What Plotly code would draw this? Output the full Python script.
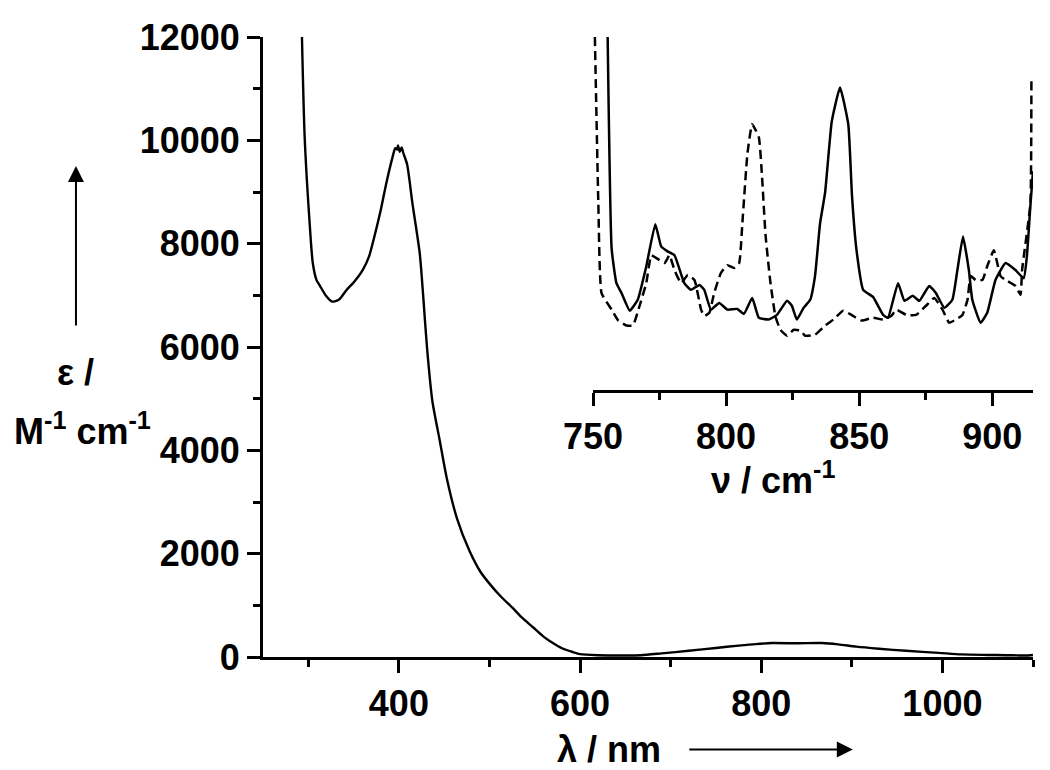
import plotly.graph_objects as go

# UV-vis spectrum (main panel)
lam_nm = [293, 296, 301, 305, 309, 313, 320, 326, 334, 342, 350, 360, 367, 373, 380,
          386, 393, 396, 398, 399, 401, 403, 405, 409, 415, 423, 427, 431, 437, 445,
          453, 464, 478, 490, 500, 512, 525, 536, 548, 560, 570, 580, 592, 600, 620,
          650, 667, 690, 720, 750, 775, 794, 812, 840, 867, 885, 905, 930, 960, 996,
          1021, 1050, 1070, 1085, 1095, 1100]
eps = [12000, 10060, 8525, 7620, 7300, 7180, 6980, 6880, 6920, 7100, 7250, 7490, 7750,
       8140, 8650, 9160, 9675, 9850, 9820, 9900, 9780, 9860, 9750, 9540, 8775, 7815,
       6950, 6000, 4950, 4200, 3450, 2690, 2050, 1650, 1420, 1180, 960, 760, 576, 390,
       270, 170, 96, 55, 35, 30, 35, 70, 120, 175, 220, 250, 270, 265, 270, 245, 200,
       160, 120, 80, 50, 40, 35, 30, 30, 40]

# inset: IR spectra (arbitrary units)
nu_a = [755.5, 757, 758.8, 760.7, 763.8, 766.8, 770, 773.4, 775.6, 778, 780.6, 784.3,
        786.8, 790, 791.8, 794.3, 797.4, 800.5, 804.2, 806.7, 809.8, 812.3, 816, 819.1,
        822.9, 824.7, 826.6, 829.1, 831.6, 833.4, 835.3, 837.2, 839.7, 842.8, 845.9,
        847.3, 849, 851.5, 855.2, 859, 860.8, 864.6, 867, 870.1, 872.6, 876.3, 878.8,
        882, 885, 886.9, 889, 891.2, 892.5, 895.6, 898.1, 901.2, 905, 908.7, 911.8,
        913, 914.3, 915.3]
ir_a = [100, 40, 30.3, 27.5, 22.5, 25.6, 35, 47, 40.7, 39.3, 38.2, 30.3, 28.4, 29.8,
        28.4, 22.8, 24.7, 22.8, 23, 21.6, 26.1, 20.5, 20, 21.3, 25.3, 23.9, 20, 23.3,
        25.6, 32.3, 47.2, 56, 76.1, 85.7, 75.3, 55, 39.6, 28.4, 26.4, 21.3, 20.5, 30.3,
        25.3, 26.7, 25.3, 29.5, 27.5, 23.3, 25.6, 34, 43.5, 34, 25.6, 19.1, 21.9, 31.2,
        36, 34, 31.7, 37.9, 52, 62]

nu_b = [750.7, 752, 753.2, 757, 759.5, 762.6, 765, 767.5, 770, 771.9, 773.8, 776.9,
        778.7, 780.6, 783.1, 785.6, 788.1, 790.6, 791.8, 793.7, 795.5, 798, 800.5, 803,
        804.9, 806.1, 808, 809.8, 812.3, 813.5, 814.8, 816.6, 818.5, 820.4, 822.9,
        825.4, 827.9, 829.7, 833.4, 837.2, 840.3, 844, 847.1, 850.9, 855.2, 859, 862,
        864, 867.7, 871.4, 875.1, 878.2, 881.3, 883.8, 886.3, 888.8, 890.7, 891.9,
        893.8, 896.3, 898.1, 900.6, 903.1, 905, 908.7, 910.6, 911.2, 914.3, 914.7]
ir_b = [100, 52.8, 27.5, 22.8, 19.7, 18.3, 18.3, 23.9, 30.3, 38.2, 37.4, 36, 38.2, 34,
        30.3, 32.6, 31.2, 22.8, 21, 21.9, 27.5, 33.1, 35.4, 34.6, 36, 47.2, 66.9, 75.3,
        71.6, 60.4, 44, 30.8, 21, 17.1, 15.4, 17.1, 16.9, 15.4, 15.7, 18.3, 20, 22.5,
        21.3, 19.7, 20.5, 20, 21, 22.8, 21.3, 21.3, 23.9, 26.1, 22.8, 19.1, 20, 21.3,
        25.6, 32.3, 31.2, 31.2, 35.1, 39.6, 32.3, 31.2, 29.5, 27, 34, 52.8, 88]

FONT = "Liberation Sans, Arial, sans-serif"
tick_font = dict(family=FONT, size=36, color="black", weight="bold")

fig = go.Figure()

fig.add_trace(go.Scatter(x=lam_nm, y=eps, mode="lines",
                         line=dict(color="black", width=2.4, shape="spline", smoothing=0.7),
                         showlegend=False))
fig.add_trace(go.Scatter(x=nu_a, y=ir_a, mode="lines", xaxis="x2", yaxis="y2",
                         line=dict(color="black", width=2.5, shape="spline", smoothing=0.4),
                         showlegend=False))
fig.add_trace(go.Scatter(x=nu_b, y=ir_b, mode="lines", xaxis="x2", yaxis="y2",
                         line=dict(color="black", width=2.5, dash="9px,5px",
                                   shape="spline", smoothing=0.4),
                         showlegend=False))

axis_common = dict(showline=True, linecolor="black", linewidth=3, ticks="outside",
                   ticklen=13, tickwidth=2.5, tickcolor="black", showgrid=False,
                   zeroline=False, tickfont=tick_font)

# page body has an 8px margin, so the figure is sized to fit inside the window
fig.update_layout(
    width=1034, height=762,
    margin=dict(l=255, r=9, t=24, b=113),
    plot_bgcolor="white", paper_bgcolor="white",
    xaxis=dict(range=[250, 1100], dtick=200, tick0=0, domain=[0, 1],
               minor=dict(dtick=100, tick0=0, ticks="outside", ticklen=7,
                          tickwidth=2.5, tickcolor="black"),
               **axis_common),
    yaxis=dict(range=[0, 12000], dtick=2000, tick0=0, tickformat="d", domain=[0, 1],
               minor=dict(dtick=1000, tick0=0, ticks="outside", ticklen=7,
                          tickwidth=2.5, tickcolor="black"),
               **axis_common),
    xaxis2=dict(range=[750, 915.3], dtick=50, tick0=750, domain=[0.4286, 1.0],
                anchor="y2",
                minor=dict(dtick=25, tick0=750, ticks="outside", ticklen=7,
                           tickwidth=2.5, tickcolor="black"),
                **axis_common),
    yaxis2=dict(range=[0, 100], domain=[0.4304, 1.0], anchor="x2", visible=False),
)

title_font = dict(family=FONT, size=36, color="black", weight="bold")


def label(text, x, y):
    fig.add_annotation(text=text, x=x, y=y, xref="paper", yref="paper",
                       xanchor="center", yanchor="middle", showarrow=False,
                       font=title_font)


def arrow(x, y, ax, ay):
    fig.add_annotation(text="", x=x, y=y, xref="paper", yref="paper",
                       ax=ax, ay=ay, showarrow=True, arrowhead=2, arrowsize=1.6,
                       arrowwidth=2, arrowcolor="black")


label("λ / nm", 0.449, -0.149)
arrow(0.766, -0.149, -165, 0)
label("ε /", -0.244, 0.459)
label("M<sup>-1</sup> cm<sup>-1</sup>", -0.235, 0.368)
arrow(-0.2429, 0.792, 0, 161)
label("ν / cm<sup>-1</sup>", 0.662, 0.288)

fig.write_html("out.html")
